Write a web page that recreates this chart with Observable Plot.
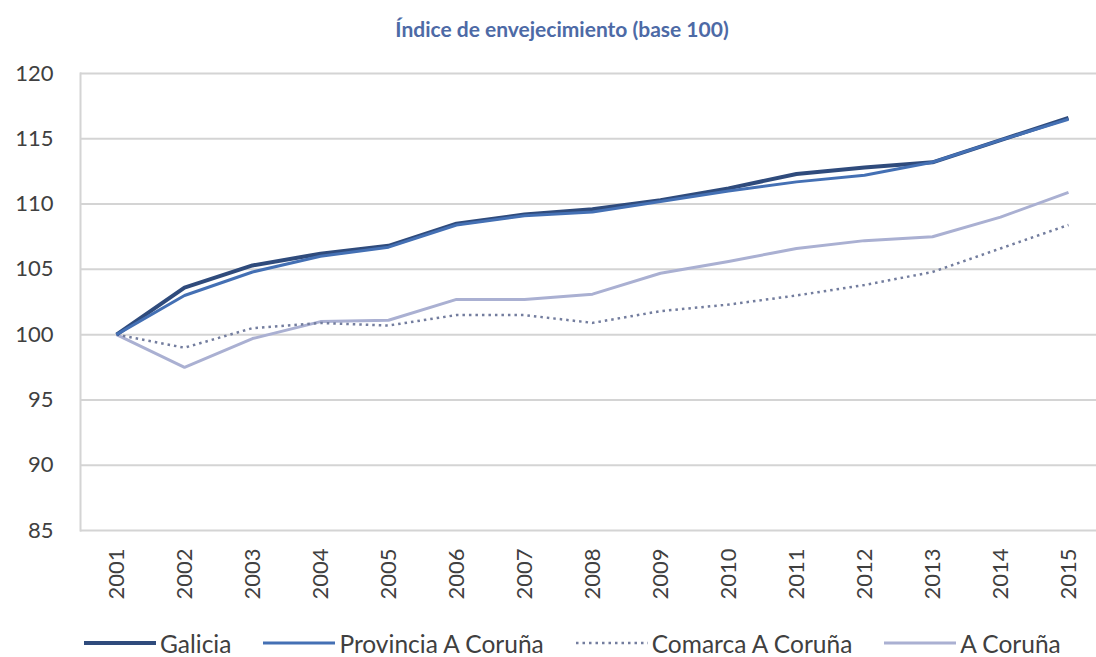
<!DOCTYPE html>
<html>
<head>
<meta charset="utf-8">
<script src="https://cdn.jsdelivr.net/npm/d3@7"></script>
<script src="https://cdn.jsdelivr.net/npm/@observablehq/plot@0.6"></script>
<style>
  body { margin: 0; background: #fff; font-family: Lato, sans-serif; width: 1096px; height: 657px; position: relative; overflow: hidden; }
  #title { position: absolute; top: 17px; left: 562px; transform: translateX(-50%); white-space: nowrap;
           font-size: 21px; font-weight: bold; color: #4d6aa6; line-height: 24px; }
  #chart { position: absolute; top: 50px; left: 0; }
  #legend { position: absolute; top: 630px; left: 84px; height: 26px; display: flex; align-items: center;
            font-size: 24.5px; color: #404040; white-space: nowrap; }
  .item { display: flex; align-items: center; margin-right: 32px; }
  .item svg { margin-right: 4px; }
</style>
</head>
<body>
<div id="title">Índice de envejecimiento (base 100)</div>
<div id="chart"></div>
<div id="legend"></div>
<script>
const years = ["2001","2002","2003","2004","2005","2006","2007","2008","2009","2010","2011","2012","2013","2014","2015"];
const galicia   = [100, 103.6, 105.3, 106.2, 106.8, 108.5, 109.2, 109.6, 110.3, 111.2, 112.3, 112.8, 113.2, 114.9, 116.6];
const provincia = [100, 103.0, 104.8, 106.0, 106.7, 108.4, 109.1, 109.4, 110.2, 111.0, 111.7, 112.2, 113.2, 114.9, 116.5];
const comarca   = [100, 99.0, 100.5, 100.9, 100.7, 101.5, 101.5, 100.9, 101.8, 102.3, 103.0, 103.8, 104.8, 106.6, 108.4];
const coruna    = [100, 97.5, 99.7, 101.0, 101.1, 102.7, 102.7, 103.1, 104.7, 105.6, 106.6, 107.2, 107.5, 109.0, 110.9];
const yTicks = [85, 90, 95, 100, 105, 110, 115, 120];

const seriesNames = ["Galicia", "Provincia A Coruña", "Comarca A Coruña", "A Coruña"];
const seriesValues = [galicia, provincia, comarca, coruna];
const seriesStyle = [
  {stroke: "#2f4b7c", strokeWidth: 4},
  {stroke: "#4470b4", strokeWidth: 3},
  {stroke: "#737d9e", strokeWidth: 2.5, strokeDasharray: "2.5,4"},
  {stroke: "#aab0d2", strokeWidth: 3}
];

const rows = seriesNames.flatMap((s, k) => years.map((y, i) => ({series: s, year: y, value: seriesValues[k][i]})));

const drawOrder = [3, 2, 0, 1];
const lineMarks = drawOrder.map(k => Plot.line(rows.filter(d => d.series === seriesNames[k]), {
  x: "year", y: "value", strokeLinejoin: "round", strokeLinecap: "butt", ...seriesStyle[k]
}));

const chart = Plot.plot({
  width: 1096, height: 570,
  marginTop: 23, marginBottom: 90, marginLeft: 80, marginRight: 0,
  style: {fontFamily: "Lato, sans-serif", fontSize: "22px", color: "#404040", background: "transparent", overflow: "visible"},
  x: {type: "point", domain: years, range: [114, 1070], padding: 0},
  y: {domain: [85, 120]},
  marks: [
    Plot.ruleY(yTicks, {stroke: "#d4d4d4", strokeWidth: 2}),
    Plot.frame({anchor: "left", stroke: "#d4d4d4", strokeWidth: 2}),
    Plot.axisY({ticks: yTicks, tickSize: 0, tickPadding: 27, label: null, fill: "#404040"}),
    Plot.axisX({tickSize: 0, tickRotate: -90, tickPadding: 18, label: null, fill: "#404040"}),
    ...lineMarks
  ]
});
document.getElementById("chart").appendChild(chart);

const legend = document.getElementById("legend");
seriesNames.forEach((name, k) => {
  const st = seriesStyle[k];
  const item = document.createElement("div");
  item.className = "item";
  const ns = "http://www.w3.org/2000/svg";
  const svg = document.createElementNS(ns, "svg");
  svg.setAttribute("width", 72); svg.setAttribute("height", 10);
  const ln = document.createElementNS(ns, "line");
  ln.setAttribute("x1", 0); ln.setAttribute("x2", 72); ln.setAttribute("y1", 5); ln.setAttribute("y2", 5);
  ln.setAttribute("stroke", st.stroke); ln.setAttribute("stroke-width", st.strokeWidth);
  if (st.strokeDasharray) ln.setAttribute("stroke-dasharray", st.strokeDasharray);
  svg.appendChild(ln);
  const lab = document.createElement("span");
  lab.textContent = name;
  item.appendChild(svg); item.appendChild(lab);
  legend.appendChild(item);
});
</script>
</body>
</html>
